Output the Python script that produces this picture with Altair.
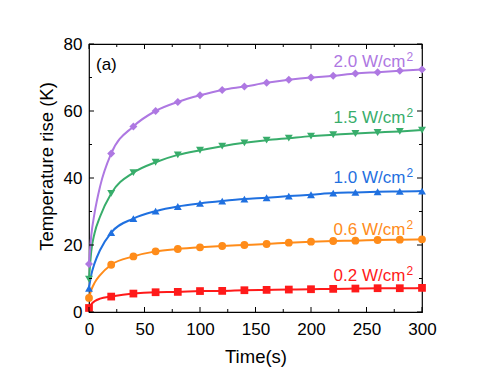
import altair as alt
import pandas as pd

# ---------------- data ----------------
series = ["0.2", "0.6", "1.0", "1.5", "2.0"]
label_text = ["0.2 W/cm", "0.6 W/cm", "1.0 W/cm", "1.5 W/cm", "2.0 W/cm"]
colors = ["#FF1A1A", "#FF8C1A", "#1F70E0", "#38AD6B", "#AE78E2"]
shapes = ["square", "circle", "triangle-up", "triangle-down", "diamond"]

time_s = [0, 20, 40, 60, 80, 100, 120, 140, 160, 180, 200, 220, 240, 260, 280, 300]
rise_02 = [1.2, 4.6, 5.5, 5.9, 6.0, 6.25, 6.3, 6.5, 6.6, 6.7, 6.8, 6.9, 7.0, 7.1, 7.1, 7.2]
rise_06 = [4.2, 14.1, 16.6, 18.1, 18.8, 19.3, 19.7, 20.0, 20.3, 20.7, 21.0, 21.2, 21.3, 21.5, 21.6, 21.7]
rise_10 = [7.1, 23.7, 27.9, 30.1, 31.5, 32.4, 33.1, 33.7, 34.1, 34.6, 35.0, 35.5, 35.7, 35.9, 36.0, 36.1]
rise_15 = [9.8, 35.4, 41.6, 44.7, 46.9, 48.3, 49.5, 50.5, 51.3, 51.9, 52.5, 52.9, 53.3, 53.6, 53.9, 54.3]
rise_20 = [14.3, 47.3, 55.4, 60.0, 62.7, 64.7, 66.3, 67.3, 68.4, 69.3, 70.0, 70.5, 71.2, 71.6, 72.0, 72.4]

fit_time = [2, 5, 10]
fit_02 = [2.3, 3.2, 4.0]
fit_06 = [6.5, 8.7, 11.0]
fit_10 = [11.0, 14.5, 18.5]
fit_15 = [18.0, 23.5, 28.5]
fit_20 = [22.7, 29.5, 37.5]

x_major = [0, 50, 100, 150, 200, 250, 300]
x_minor = [25, 75, 125, 175, 225, 275]
y_major = [0, 20, 40, 60, 80]
y_minor = [10, 30, 50, 70]

# ---------------- tables ----------------
rises = [rise_02, rise_06, rise_10, rise_15, rise_20]
fits = [fit_02, fit_06, fit_10, fit_15, fit_20]

pts_rows = []
line_rows = []
for s, r, f in zip(series, rises, fits):
    for t, v in zip(time_s, r):
        pts_rows.append({"series": s, "t": t, "v": v})
        line_rows.append({"series": s, "t": t, "v": v})
    for t, v in zip(fit_time, f):
        line_rows.append({"series": s, "t": t, "v": v})
df_pts = pd.DataFrame(pts_rows)
df_line = pd.DataFrame(line_rows).sort_values(["series", "t"])

# label anchors (layout)
lab_x = 285.0
sup_x = 286.0
lab_y = [9.2, 23.1, 38.5, 56.5, 73.2]
df_lab = pd.DataFrame({"series": series, "lab": label_text,
                       "tx": [lab_x] * 5, "sx": [sup_x] * 5, "ty": lab_y,
                       "sup": ["2"] * 5})
df_a = pd.DataFrame({"tx": [6.3], "ty": [73.7], "lab": ["(a)"]})

W, H = 333, 268
FONT = "Liberation Sans"

xs = alt.Scale(domain=[0, 300], nice=False, zero=False)
ys = alt.Scale(domain=[0, 80], nice=False, zero=False)
cs = alt.Scale(domain=series, range=colors)

x_axis = alt.Axis(values=x_major, ticks=False, domain=False, grid=False,
                  labelFontSize=17, labelFont=FONT, labelColor="black", labelPadding=9,
                  labelFlush=False, labelOverlap=False,
                  title="Time(s)", titleFont=FONT, titleFontSize=18.5, titleFontWeight="normal",
                  titleColor="black", titleX=W / 2, titleY=50.5, titleAlign="center",
                  titleBaseline="alphabetic")
y_axis = alt.Axis(values=y_major, ticks=False, domain=False, grid=False,
                  labelFontSize=17, labelFont=FONT, labelColor="black", labelPadding=7,
                  labelFlush=False, labelOverlap=False,
                  title="Temperature rise (K)", titleFont=FONT, titleFontSize=18.5,
                  titleFontWeight="normal", titleColor="black", titleAngle=270,
                  titleX=-36.5, titleY=122, titleAlign="center", titleBaseline="alphabetic")


def X(f):
    return alt.X(f, scale=xs, axis=x_axis)


def Y(f):
    return alt.Y(f, scale=ys, axis=y_axis)


lines = alt.Chart(df_line).mark_line(strokeWidth=2, interpolate="monotone").encode(
    x=X("t:Q"), y=Y("v:Q"),
    color=alt.Color("series:N", scale=cs, legend=None),
)

points = alt.Chart(df_pts).mark_point(filled=True, opacity=1).encode(
    x=X("t:Q"), y=Y("v:Q"),
    color=alt.Color("series:N", scale=cs, legend=None),
    shape=alt.Shape("series:N", scale=alt.Scale(domain=series, range=shapes), legend=None),
    size=alt.Size("series:N", scale=alt.Scale(domain=series, range=[60, 64, 75, 75, 85]), legend=None),
)


def xticks(vals, length):
    d = pd.DataFrame({"p": vals})
    bot = alt.Chart(d).mark_rule(color="black", strokeWidth=1).encode(
        x=X("p:Q"), y=alt.value(H), y2=alt.value(H - length))
    top = alt.Chart(d).mark_rule(color="black", strokeWidth=1).encode(
        x=X("p:Q"), y=alt.value(0), y2=alt.value(length))
    return [bot, top]


def yticks(vals, length):
    d = pd.DataFrame({"p": vals})
    left = alt.Chart(d).mark_rule(color="black", strokeWidth=1).encode(
        y=Y("p:Q"), x=alt.value(0), x2=alt.value(length))
    right = alt.Chart(d).mark_rule(color="black", strokeWidth=1).encode(
        y=Y("p:Q"), x=alt.value(W), x2=alt.value(W - length))
    return [left, right]


tick_layers = xticks(x_major, 5) + xticks(x_minor, 3) + yticks(y_major, 5) + yticks(y_minor, 3)

labels = alt.Chart(df_lab).mark_text(align="right", baseline="alphabetic", fontSize=17, font=FONT).encode(
    x=X("tx:Q"), y=Y("ty:Q"),
    text="lab:N",
    color=alt.Color("series:N", scale=cs, legend=None),
)
sups = alt.Chart(df_lab).mark_text(align="left", baseline="alphabetic", fontSize=12, dy=-6, font=FONT).encode(
    x=X("sx:Q"), y=Y("ty:Q"),
    text="sup:N",
    color=alt.Color("series:N", scale=cs, legend=None),
)
panel = alt.Chart(df_a).mark_text(align="left", baseline="middle", fontSize=17, font=FONT, color="black").encode(
    x=X("tx:Q"), y=Y("ty:Q"),
    text="lab:N",
)

chart = alt.layer(lines, points, *tick_layers, labels, sups, panel).properties(
    width=W, height=H,
    padding={"left": 81, "top": 36, "right": 55, "bottom": 56},
    autosize=alt.AutoSizeParams(type="none"),
).configure_view(stroke="black", strokeWidth=1.2)

chart.save("out.html", embed_options={"renderer": "svg", "actions": False})
